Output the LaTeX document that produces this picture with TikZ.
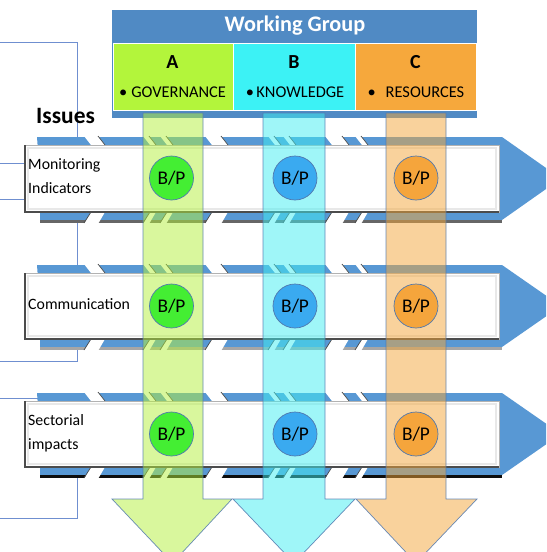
\documentclass[tikz,border=0pt]{standalone}
\usepackage{fontspec}
\setmainfont{Carlito}
\definecolor{hdrblue}{RGB}{80,138,196}
\definecolor{cellA}{RGB}{179,245,59}
\definecolor{cellB}{RGB}{60,242,245}
\definecolor{cellC}{RGB}{246,168,60}
\definecolor{bandblue}{RGB}{88,152,212}
\definecolor{linkblue}{RGB}{111,143,208}
\definecolor{colA}{RGB}{180,240,60}
\definecolor{colB}{RGB}{64,238,242}
\definecolor{colC}{RGB}{245,167,58}
\definecolor{edgeblue}{RGB}{80,120,175}
\definecolor{circA}{RGB}{68,238,51}
\definecolor{circB}{RGB}{58,170,240}
\definecolor{circC}{RGB}{245,165,60}
\begin{document}
\begin{tikzpicture}[x=0.03cm,y=-0.03cm,
  linkline/.style={draw=linkblue, line width=0.7pt},
  cellbox/.style={draw=white, line width=0.8pt},
  hdrtitle/.style={text=white, font=\fontsize{19}{22}\selectfont\bfseries, inner sep=0pt},
  cellletter/.style={font=\fontsize{17}{20}\selectfont\bfseries, inner sep=0pt},
  celltext/.style={font=\fontsize{14}{16}\selectfont, inner sep=0pt},
  issuetext/.style={font=\fontsize{13.5}{16}\selectfont, anchor=base west, inner sep=0pt},
  colarrow/.style={fill opacity=0.5, draw=edgeblue, draw opacity=0.85, line width=0.6pt},
  bp/.style={circle, draw=edgeblue, line width=0.6pt, minimum size=1.32cm, inner sep=0pt,
             font=\fontsize{16.5}{18}\selectfont},
  gapfill/.style={fill=white},
  gapedge/.style={draw=black!70, line width=0.6pt}
]
\useasboundingbox (0,0) rectangle (546,552);
\clip (0,0) rectangle (546,552);
\fill[white] (0,0) rectangle (546,552);

% left bracket lines
\draw[linkline] (0,42) -- (77,42) -- (77,361) -- (0,361);
\draw[linkline] (0,163) -- (25,163);
\draw[linkline] (0,199) -- (25,199);
\draw[linkline] (0,398) -- (77,398) -- (77,518) -- (0,518);

% header
\fill[hdrblue] (112,10) rectangle (477,118);
\filldraw[cellbox, fill=cellA] (113,43) rectangle (233,110);
\filldraw[cellbox, fill=cellB] (233,43) rectangle (355,110);
\filldraw[cellbox, fill=cellC] (355,43) rectangle (476,110);
\node[hdrtitle] (wg) at (295,26) {Working Group};
\node[cellletter] (la) at (172.5,62) {A};
\node[cellletter] (lb) at (294,62) {B};
\node[cellletter] (lc) at (415.5,62) {C};
\node[celltext] (ta) at (172.5,92.5) {•\hspace{0.25em}GOVERNANCE};
\node[celltext] (tb) at (295,92.5) {•\hspace{0.15em}KNOWLEDGE};
\node[celltext] (tc) at (416,92.5) {•\hspace{0.6em}RESOURCES};

\node[font=\fontsize{20}{23}\selectfont\bfseries, anchor=base west, inner sep=0pt] (issues) at (36,123) {Issues};

% bands
\foreach \T/\B/\sh in {145/212/60, 273/339/35, 401/467/95}{
  \pgfmathsetmacro{\M}{(\T+\B)/2}
  \fill[bandblue] (37,\T-8) -- (502,\T-8) -- (561,\M) -- (502,\B+8) -- (40,\B+8) -- (40,\M) -- cycle;
  \fill[black!\sh] (40,\B+8) rectangle (502,\B+11);
  \foreach \g/\w in {84/14, 143/6, 160/6, 205/16, 268/6, 283/6, 325/17, 355/6}{
    \fill[gapfill] (\g,\T-9) -- (\g+\w,\T-9) -- (\g+\w+7,\T) -- (\g+7,\T) -- cycle;
    \draw[gapedge] (\g+\w,\T-9) -- (\g+\w+7,\T);
    \fill[gapfill] (\g+7,\B) -- (\g+\w+7,\B) -- (\g+\w,\B+12) -- (\g,\B+12) -- cycle;
    \draw[gapedge] (\g,\B+11) -- (\g+7,\B);
  }
  \fill[white] (25,\T) rectangle (499,\B);
  \draw[gray!18, line width=2.5pt] (28,\T+3) rectangle (496,\B-3);
  \draw[gray!60, line width=0.6pt] (25,\T) rectangle (499,\B);
  \draw[black!70, line width=1.6pt] (25,\T) -- (25,\B) -- (499,\B);
}

% column arrows
\filldraw[colarrow, fill=colA] (143,113) -- (203,113) -- (203,499) -- (232,499) -- (172.5,563) -- (112,499) -- (143,499) -- cycle;
\filldraw[colarrow, fill=colB] (263,113) -- (325,113) -- (325,499) -- (355,499) -- (294,563) -- (233,499) -- (263,499) -- cycle;
\filldraw[colarrow, fill=colC] (386,113) -- (446,113) -- (446,499) -- (477,499) -- (416,563) -- (356,499) -- (386,499) -- cycle;

% B/P circles
\node[bp, fill=circA] (a1) at (171.5,178) {B/P};
\node[bp, fill=circB] (b1) at (295,178) {B/P};
\node[bp, fill=circC] (c1) at (416,178) {B/P};
\node[bp, fill=circA] (a2) at (171.5,306) {B/P};
\node[bp, fill=circB] (b2) at (295,306) {B/P};
\node[bp, fill=circC] (c2) at (416,306) {B/P};
\node[bp, fill=circA] (a3) at (171.5,434) {B/P};
\node[bp, fill=circB] (b3) at (295,434) {B/P};
\node[bp, fill=circC] (c3) at (416,434) {B/P};

% issue labels
\node[issuetext] (m1) at (28,169) {Monitoring};
\node[issuetext] (m2) at (28,193) {Indicators};
\node[issuetext] (cm) at (28,309) {Communication};
\node[issuetext] (s1) at (28,425) {Sectorial};
\node[issuetext] (s2) at (28,449) {impacts};
\end{tikzpicture}
\end{document}
